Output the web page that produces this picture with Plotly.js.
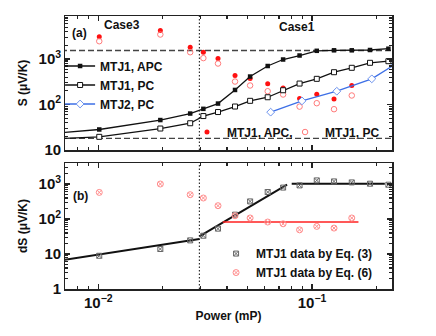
<!DOCTYPE html>
<html>
<head>
<meta charset="utf-8">
<script src="https://cdn.plot.ly/plotly-3.0.1.min.js"></script>
<style>
  html, body { margin: 0; padding: 0; background: #fff; }
  #plot { width: 436px; height: 336px; }
</style>
</head>
<body>
<div id="plot"></div>
<script>
// heating power (mP) of the measured points, shared by both panels
const power = [0.0101, 0.0195, 0.0269, 0.031, 0.0363, 0.0436, 0.0513, 0.062,
  0.0732, 0.0874, 0.1052, 0.1267, 0.1534, 0.1867, 0.2276];

// (a) Seebeck coefficient, lines start just left of the axis
const edgePower = 0.005;
const apcS = [21.5, 28.3, 45.6, 63.4, 80.4, 105, 209, 412, 702, 975, 1194, 1514, 1553, 1553, 1578, 1683];
const pcS = [16.8, 19.5, 29.7, 38.8, 55.8, 68.4, 90.4, 120.6, 144.6, 206, 289, 367, 513, 641, 825, 895];
const mtj2Power = [0.064, 0.0897, 0.1305, 0.1903, 0.245];
const mtj2S = [68, 120, 196, 367, 764];
const redApcS = [3076, 4227, 1815, 1409, 1026, 434, 373, 285, 231, 135, 168, 133, 262];
const redPcS = [2460, 3452, 1409, 1047, 796, 320, 262, 196, 166, 90, 107, 79, 158];
const sHigh = 1540;
const sLow = 18;
const caseBoundary = 0.0297;

// (b) dS
const dsEq3 = [8.9, 13.9, 24.5, 33.3, 53, 133, 318, 590, 790, 913, 1268, 1186, 1111, 1020, 955];
const dsEq6 = [575, 1000, 495, 398, 240, 124, 107, 82, 73, 49, 61.5, 55, 107];
const fitLowP = [0.0065, 0.0297];
const fitLowDS = [6.4, 26.8];
const fitRiseP = [0.0297, 0.0764];
const fitRiseDS = [32, 955];
const fitFlatP = [0.0803, 0.219];
const fitFlatDS = [1020, 1020];
const fit6P = [0.0382, 0.1648];
const fit6DS = [82, 82];

const FONT = "Liberation Sans, Arial, sans-serif";
const withEdge = [edgePower].concat(power);

function logAxis(range, extra) {
  return Object.assign({
    type: "log",
    range: range,
    dtick: 1,
    exponentformat: "power",
    ticks: "inside",
    ticklen: 5,
    tickwidth: 1.2,
    tickcolor: "#222",
    minor: { ticks: "inside", ticklen: 3, dtick: "D1", tickcolor: "#222" },
    showline: true,
    linecolor: "#222",
    linewidth: 1.5,
    mirror: "allticks",
    showgrid: false,
    zeroline: false,
    tickfont: { family: FONT, size: 12, weight: "bold", color: "#111" },
  }, extra);
}

function label(text, x, y) {
  return {
    text: text, xref: "paper", yref: "paper", x: x, y: y,
    xanchor: "center", yanchor: "middle", showarrow: false,
    font: { family: FONT, size: 12, weight: "bold", color: "#111" },
  };
}

const traces = [
  // reference levels and case boundary
  { x: [0.005, 0.3], y: [sHigh, sHigh], mode: "lines", showlegend: false, hoverinfo: "skip",
    line: { color: "#444", width: 1.4, dash: "6px,3px" }, xaxis: "x", yaxis: "y" },
  { x: [0.005, 0.3], y: [sLow, sLow], mode: "lines", showlegend: false, hoverinfo: "skip",
    line: { color: "#444", width: 1.4, dash: "6px,3px" }, xaxis: "x", yaxis: "y" },
  { x: power.slice(0, redApcS.length), y: redApcS, mode: "markers", name: "MTJ1, APC,",
    marker: { color: "#ff1010", size: 5, symbol: "circle" }, legend: "legend2", xaxis: "x", yaxis: "y" },
  { x: power.slice(0, redPcS.length), y: redPcS, mode: "markers", name: "MTJ1, PC",
    marker: { color: "#ff7a7a", size: 5.5, symbol: "circle-open", line: { width: 1 } },
    legend: "legend4", xaxis: "x", yaxis: "y" },
  { x: withEdge, y: apcS, mode: "lines+markers", name: "MTJ1, APC",
    line: { color: "#111", width: 1.3 }, marker: { color: "#111", size: 4.5, symbol: "square" },
    xaxis: "x", yaxis: "y" },
  { x: withEdge, y: pcS, mode: "lines+markers", name: "MTJ1, PC",
    line: { color: "#111", width: 1.3 },
    marker: { color: "#fff", size: 5, symbol: "square", line: { color: "#111", width: 1 } },
    xaxis: "x", yaxis: "y" },
  { x: mtj2Power, y: mtj2S, mode: "lines+markers", name: "MTJ2, PC",
    line: { color: "#3d6fe6", width: 1.3 },
    marker: { color: "#fff", size: 6, symbol: "diamond", line: { color: "#6d93ee", width: 1 } },
    xaxis: "x", yaxis: "y" },

  // panel (b)
  { x: fitLowP, y: fitLowDS, mode: "lines", showlegend: false, line: { color: "#111", width: 2 },
    xaxis: "x2", yaxis: "y2" },
  { x: fitRiseP, y: fitRiseDS, mode: "lines", showlegend: false, line: { color: "#111", width: 2 },
    xaxis: "x2", yaxis: "y2" },
  { x: fitFlatP, y: fitFlatDS, mode: "lines", showlegend: false, line: { color: "#111", width: 2 },
    xaxis: "x2", yaxis: "y2" },
  { x: fit6P, y: fit6DS, mode: "lines", showlegend: false, line: { color: "#ff2020", width: 1.6 },
    xaxis: "x2", yaxis: "y2" },
  { x: power, y: dsEq3, mode: "markers", name: "MTJ1 data by Eq. (3)", legend: "legend3",
    marker: { color: "#666", size: 5, symbol: "square-x-open", line: { width: 1 } },
    xaxis: "x2", yaxis: "y2" },
  { x: power.slice(0, dsEq6.length), y: dsEq6, mode: "markers", name: "MTJ1 data by Eq. (6)", legend: "legend3",
    marker: { color: "#ff8c8c", size: 6, symbol: "circle-x-open", line: { width: 1 } },
    xaxis: "x2", yaxis: "y2" },
];

const legendFont = { family: FONT, size: 12, weight: "bold", color: "#111" };
const clear = "rgba(0,0,0,0)";

const layout = {
  width: 436,
  height: 336,
  margin: { l: 65, r: 44, t: 16, b: 47 },
  paper_bgcolor: "#fff",
  plot_bgcolor: "#fff",
  font: { family: FONT, size: 12, color: "#111" },
  xaxis: logAxis([-2.156, -0.626], { domain: [0, 1], anchor: "y", showticklabels: false, matches: "x2" }),
  yaxis: logAxis([1, 3.945], {
    domain: [0.509, 1], anchor: "x",
    title: { text: "S (\u03BCV/K)", font: { family: FONT, size: 12, weight: "bold" }, standoff: 8 },
  }),
  xaxis2: logAxis([-2.156, -0.626], {
    domain: [0, 1], anchor: "y2",
    title: { text: "Power (mP)", font: { family: FONT, size: 12, weight: "bold" }, standoff: 1 },
  }),
  yaxis2: logAxis([0, 3.6], {
    domain: [0, 0.4615], anchor: "x2",
    title: { text: "dS (\u03BCV/K)", font: { family: FONT, size: 12, weight: "bold" }, standoff: 8 },
  }),
  showlegend: true,
  legend: { x: -0.015, y: 0.87, xanchor: "left", yanchor: "top", bgcolor: clear, font: legendFont },
  legend2: { x: 0.373, y: 0.575, xanchor: "left", yanchor: "middle", bgcolor: clear, font: legendFont },
  legend4: { x: 0.673, y: 0.575, xanchor: "left", yanchor: "middle", bgcolor: clear, font: legendFont },
  legend3: { x: 0.462, y: 0.095, xanchor: "left", yanchor: "middle", bgcolor: clear, font: legendFont },
  shapes: [
    { type: "line", xref: "x", yref: "y domain", x0: caseBoundary, x1: caseBoundary, y0: 0, y1: 1,
      line: { color: "#222", width: 1.1, dash: "1.5px,2px" } },
    { type: "line", xref: "x2", yref: "y2 domain", x0: caseBoundary, x1: caseBoundary, y0: 0, y1: 1,
      line: { color: "#222", width: 1.1, dash: "1.5px,2px" } },
  ],
  annotations: [
    label("Case3", 0.174, 0.967),
    label("Case1", 0.709, 0.96),
    label("(a)", 0.043, 0.938),
    label("(b)", 0.046, 0.341),
  ],
};

Plotly.newPlot("plot", traces, layout, { displayModeBar: false, staticPlot: true });
</script>
</body>
</html>
